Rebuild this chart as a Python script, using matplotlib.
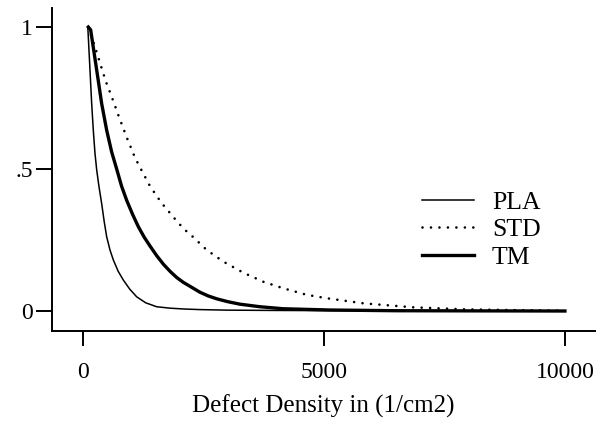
import matplotlib
matplotlib.use("Agg")
import matplotlib.pyplot as plt

plt.rcParams["font.family"] = ["Liberation Serif", "DejaVu Serif"]

# values (defect density, normalised yield)
pla_x = [100, 145, 180, 214, 249, 285, 330, 387, 440, 491, 560, 629, 730, 837, 970, 1114, 1300,
         1529, 1805, 2100, 2428, 3000, 4000, 5500, 7000, 8500, 10000]
pla_y = [1.0, 0.849, 0.731, 0.637, 0.555, 0.496, 0.44, 0.379, 0.315, 0.262, 0.215, 0.18, 0.14,
         0.109, 0.077, 0.05, 0.029, 0.015, 0.01, 0.007, 0.005, 0.003, 0.002, 0.001, 0.001, 0.0, 0.0]

std_x = [110, 249, 387, 477, 595, 733, 906, 1079, 1217, 1390, 1529, 1633, 1805, 1978, 2152, 2289,
         2566, 2912, 3326, 3742, 4156, 4642, 5056, 5817, 6854, 7891, 9000, 10000]
std_y = [1.0, 0.93, 0.855, 0.807, 0.755, 0.69, 0.612, 0.54, 0.495, 0.44, 0.405, 0.38, 0.345, 0.31,
         0.28, 0.26, 0.215, 0.174, 0.135, 0.103, 0.08, 0.057, 0.045, 0.027, 0.013, 0.006, 0.003, 0.001]

tm_x = [110, 159, 284, 387, 491, 595, 699, 800, 906, 1030, 1148, 1270, 1390, 1529, 1667, 1805, 1944,
        2081, 2220, 2428, 2600, 2774, 3000, 3258, 3673, 4150, 5125, 6500, 8000, 10000]
tm_y = [1.0, 0.99, 0.849, 0.731, 0.637, 0.56, 0.5, 0.44, 0.39, 0.34, 0.297, 0.26, 0.229, 0.195,
        0.165, 0.14, 0.118, 0.101, 0.087, 0.066, 0.053, 0.043, 0.033, 0.024, 0.015, 0.008, 0.0035,
        0.001, 0.0005, 0.0]

labels = ["PLA", "STD", "TM"]
x_ticks = [0, 5000, 10000]
y_ticks = [0, 0.5, 1]
y_tick_labels = ["0", ".5", "1"]

fig = plt.figure(figsize=(5.98, 4.21), dpi=100)
ax = fig.add_axes([52 / 598, 1 - 331 / 421, 543 / 598, 323 / 421])

ax.plot(pla_x, pla_y, color="black", linewidth=1.1, label=labels[0])
ax.plot(std_x, std_y, color="black", linewidth=1.9, linestyle=(0, (0.01, 3.2)),
        dash_capstyle="round", label=labels[1])
ax.plot(tm_x, tm_y, color="black", linewidth=2.4, label=labels[2])

ax.set_xlim(-643, 10624)
ax.set_ylim(-0.0704, 1.067)
ax.set_xticks(x_ticks)
ax.set_xticklabels([str(t) for t in x_ticks])
ax.set_yticks(y_ticks)
ax.set_yticklabels(y_tick_labels)

for side in ["top", "right"]:
    ax.spines[side].set_visible(False)
for side in ["left", "bottom"]:
    ax.spines[side].set_linewidth(1.4)

ax.tick_params(axis="x", direction="out", length=11, width=1.4, pad=11, labelsize=17)
ax.tick_params(axis="y", direction="out", length=11.5, width=1.4, pad=2, labelsize=17)
ax.set_xlabel("Defect Density in (1/cm2)", fontsize=18, labelpad=9)

ax.legend(frameon=False, fontsize=18.5, handlelength=2.02, handletextpad=0.7, labelspacing=0.17,
          borderpad=0, borderaxespad=0, loc="upper left",
          bbox_to_anchor=(422 / 598, 1 - 191 / 421), bbox_transform=fig.transFigure)

fig.savefig("out.png", dpi=100)
